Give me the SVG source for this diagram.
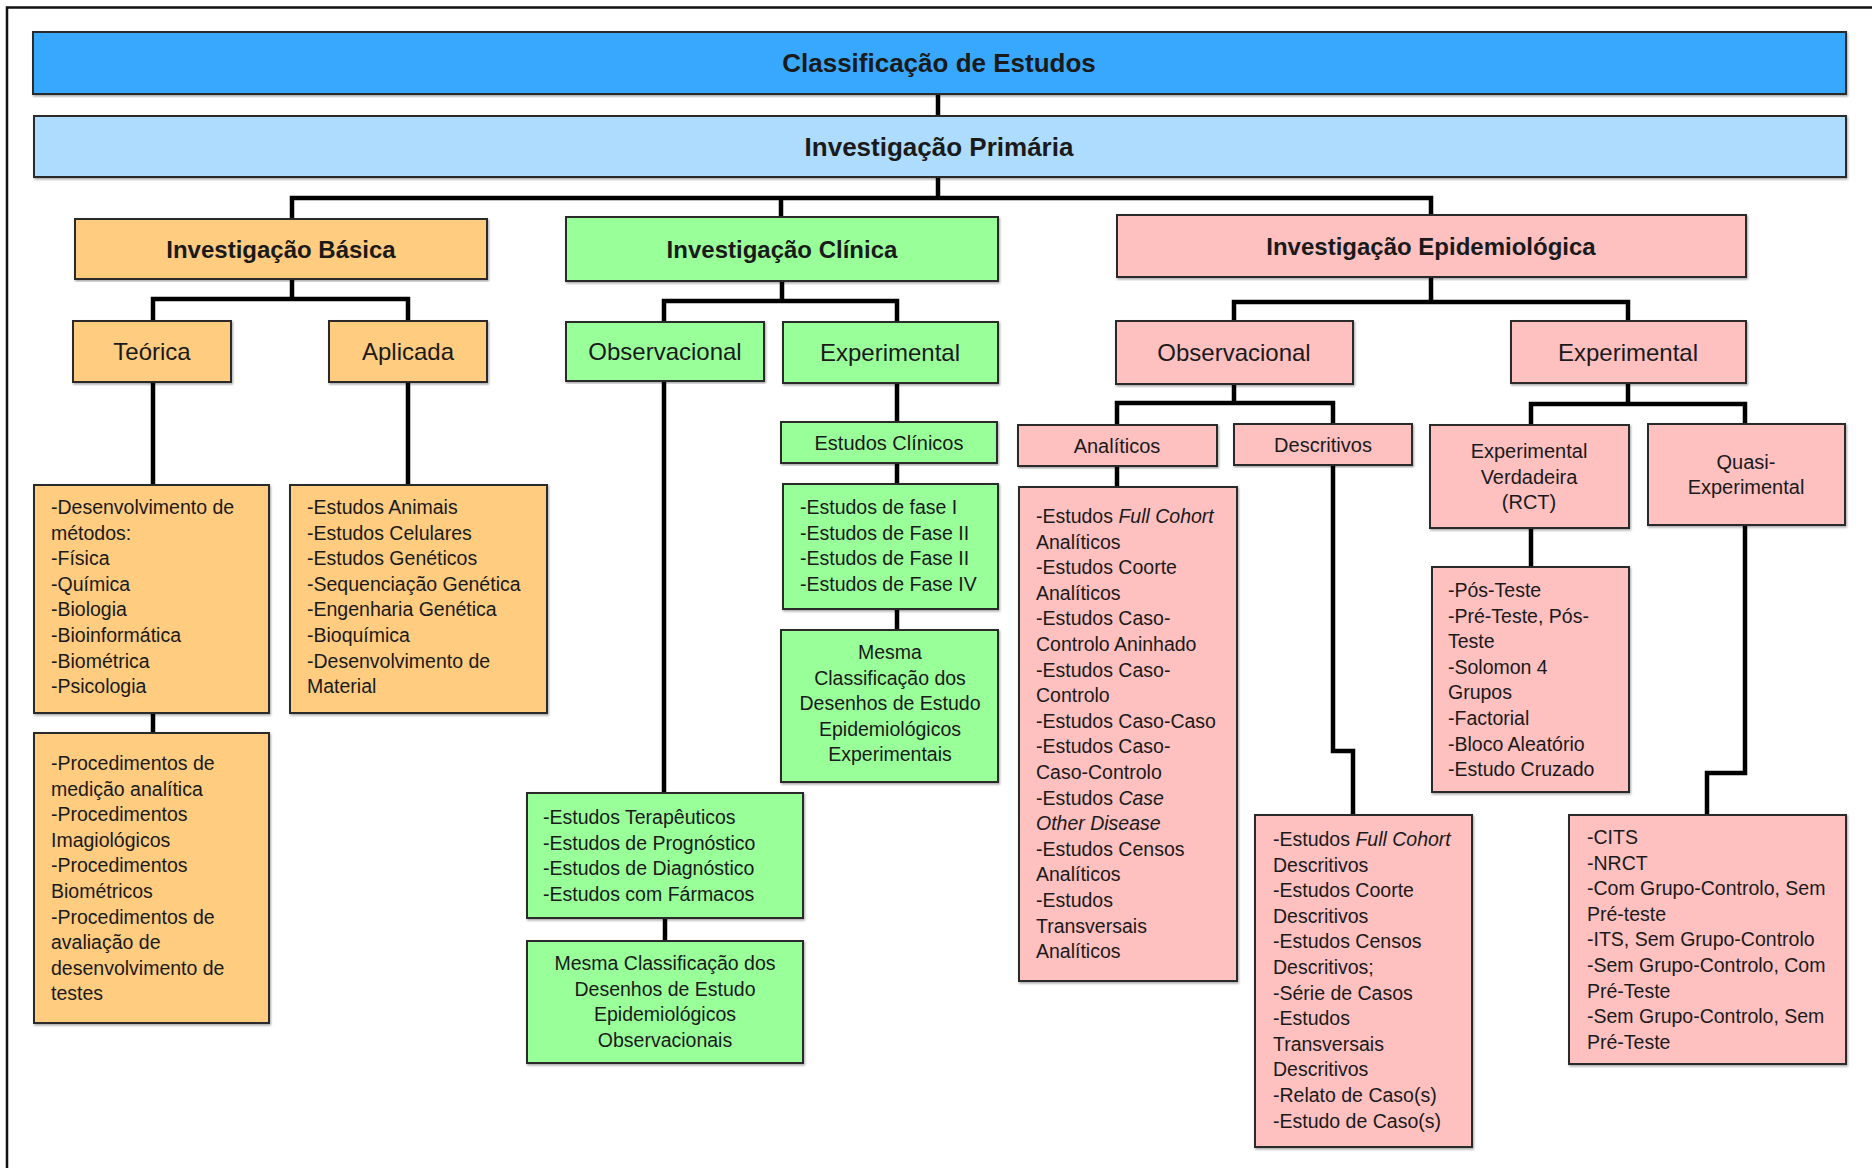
<svg xmlns="http://www.w3.org/2000/svg" width="1872" height="1168" viewBox="0 0 1872 1168">
  <defs>
    <filter id="shadow" x="-5%" y="-5%" width="110%" height="110%">
      <feDropShadow dx="1" dy="1.5" stdDeviation="1" flood-color="#000" flood-opacity="0.35"/>
    </filter>
  </defs>
  <style>
    rect.box { stroke: #2a2a2a; stroke-width: 2; filter: url(#shadow); }
    .blue { fill: #38a8ff; }
    .lblue { fill: #aedcff; }
    .orange { fill: #ffcc80; }
    .green { fill: #99ff99; }
    .pink { fill: #ffc0c0; }
    text { font-family: "Liberation Sans", Arial, sans-serif; fill: #1a1a1a; dominant-baseline: central; }
    .h1 { font-size: 26px; font-weight: bold; text-anchor: middle; }
    .h2 { font-size: 24px; font-weight: bold; text-anchor: middle; }
    .h3 { font-size: 24px; text-anchor: middle; }
    .h4 { font-size: 20px; text-anchor: middle; }
    .list { font-size: 19.5px; }
    .mid { text-anchor: middle; }
    .it { font-style: italic; }
    .wire { fill: none; stroke: #000; stroke-width: 4.5; stroke-linejoin: miter; }
    .frame { fill: none; stroke: #111; stroke-width: 2.5; }
  </style>

  <rect width="1872" height="1168" fill="#fff"/>
  <path class="frame" d="M7,1168 V7.5 H1872"/>

  <!-- connectors -->
  <g id="connectors">
    <path class="wire" d="M938,94 V116"/>
    <path class="wire" d="M938,177 V198"/>
    <path class="wire" d="M292,219 V198 H1431 V215 M781,198 V217"/>
    <path class="wire" d="M292,279 V299 M153,321 V299 H408 V321"/>
    <path class="wire" d="M782,281 V301 M664,322 V301 H897 V322"/>
    <path class="wire" d="M1431,277 V302 M1234,321 V302 H1628 V321"/>
    <path class="wire" d="M1234,384 V403 M1117,425 V403 H1333 V424"/>
    <path class="wire" d="M1628,383 V404 M1531,425 V404 H1745 V424"/>
    <path class="wire" d="M153,382 V485 M153,713 V733"/>
    <path class="wire" d="M408,382 V485"/>
    <path class="wire" d="M664,381 V793 M665,918 V941"/>
    <path class="wire" d="M897,383 V422 M897,463 V484 M897,609 V630"/>
    <path class="wire" d="M1117,466 V487"/>
    <path class="wire" d="M1333,465 V751 H1353 V815"/>
    <path class="wire" d="M1531,528 V567"/>
    <path class="wire" d="M1745,525 V773 H1707 V815"/>
  </g>

  <!-- level 0 / 1 -->
  <g id="classificacao">
    <rect class="box blue" x="33" y="32" width="1813" height="62"/>
    <text class="h1" x="939" y="63">Classificação de Estudos</text>
  </g>
  <g id="primaria">
    <rect class="box lblue" x="34" y="116" width="1812" height="61"/>
    <text class="h1" x="939" y="147">Investigação Primária</text>
  </g>

  <!-- main branches -->
  <g id="basica">
    <rect class="box orange" x="75" y="219" width="412" height="60"/>
    <text class="h2" x="281" y="249">Investigação Básica</text>
  </g>
  <g id="clinica">
    <rect class="box green" x="566" y="217" width="432" height="64"/>
    <text class="h2" x="782" y="249">Investigação Clínica</text>
  </g>
  <g id="epidemiologica">
    <rect class="box pink" x="1117" y="215" width="629" height="62"/>
    <text class="h2" x="1431" y="246">Investigação Epidemiológica</text>
  </g>

  <!-- second level -->
  <g id="teorica">
    <rect class="box orange" x="73" y="321" width="158" height="61"/>
    <text class="h3" x="152" y="351">Teórica</text>
  </g>
  <g id="aplicada">
    <rect class="box orange" x="329" y="321" width="158" height="61"/>
    <text class="h3" x="408" y="351">Aplicada</text>
  </g>
  <g id="clin-observacional">
    <rect class="box green" x="566" y="322" width="198" height="59"/>
    <text class="h3" x="665" y="351">Observacional</text>
  </g>
  <g id="clin-experimental">
    <rect class="box green" x="783" y="322" width="215" height="61"/>
    <text class="h3" x="890" y="352">Experimental</text>
  </g>
  <g id="epi-observacional">
    <rect class="box pink" x="1116" y="321" width="237" height="63"/>
    <text class="h3" x="1234" y="352">Observacional</text>
  </g>
  <g id="epi-experimental">
    <rect class="box pink" x="1511" y="321" width="235" height="62"/>
    <text class="h3" x="1628" y="352">Experimental</text>
  </g>

  <!-- third level -->
  <g id="estudos-clinicos">
    <rect class="box green" x="781" y="422" width="216" height="41"/>
    <text class="h4" x="889" y="443">Estudos Clínicos</text>
  </g>
  <g id="analiticos">
    <rect class="box pink" x="1018" y="425" width="199" height="41"/>
    <text class="h4" x="1117" y="446">Analíticos</text>
  </g>
  <g id="descritivos">
    <rect class="box pink" x="1234" y="424" width="178" height="41"/>
    <text class="h4" x="1323" y="445">Descritivos</text>
  </g>
  <g id="experimental-verdadeira">
    <rect class="box pink" x="1430" y="425" width="199" height="103"/>
    <text class="h4" x="1529" y="451">Experimental<tspan x="1529" dy="25.5">Verdadeira</tspan><tspan x="1529" dy="25.5">(RCT)</tspan></text>
  </g>
  <g id="quasi-experimental">
    <rect class="box pink" x="1648" y="424" width="197" height="101"/>
    <text class="h4" x="1746" y="462">Quasi-<tspan x="1746" dy="25">Experimental</tspan></text>
  </g>

  <!-- leaf lists -->
  <g id="teorica-lista">
    <rect class="box orange" x="34" y="485" width="235" height="228"/>
    <text class="list" x="51" y="507">-Desenvolvimento de<tspan x="51" dy="25.6">métodos:</tspan><tspan x="51" dy="25.6">-Física</tspan><tspan x="51" dy="25.6">-Química</tspan><tspan x="51" dy="25.6">-Biologia</tspan><tspan x="51" dy="25.6">-Bioinformática</tspan><tspan x="51" dy="25.6">-Biométrica</tspan><tspan x="51" dy="25.6">-Psicologia</tspan></text>
  </g>
  <g id="procedimentos">
    <rect class="box orange" x="34" y="733" width="235" height="290"/>
    <text class="list" x="51" y="763">-Procedimentos de<tspan x="51" dy="25.6">medição analítica</tspan><tspan x="51" dy="25.6">-Procedimentos</tspan><tspan x="51" dy="25.6">Imagiológicos</tspan><tspan x="51" dy="25.6">-Procedimentos</tspan><tspan x="51" dy="25.6">Biométricos</tspan><tspan x="51" dy="25.6">-Procedimentos de</tspan><tspan x="51" dy="25.6">avaliação de</tspan><tspan x="51" dy="25.6">desenvolvimento de</tspan><tspan x="51" dy="25.6">testes</tspan></text>
  </g>
  <g id="aplicada-lista">
    <rect class="box orange" x="290" y="485" width="257" height="228"/>
    <text class="list" x="307" y="507">-Estudos Animais<tspan x="307" dy="25.6">-Estudos Celulares</tspan><tspan x="307" dy="25.6">-Estudos Genéticos</tspan><tspan x="307" dy="25.6">-Sequenciação Genética</tspan><tspan x="307" dy="25.6">-Engenharia Genética</tspan><tspan x="307" dy="25.6">-Bioquímica</tspan><tspan x="307" dy="25.6">-Desenvolvimento de</tspan><tspan x="307" dy="25.6">Material</tspan></text>
  </g>
  <g id="fases">
    <rect class="box green" x="783" y="484" width="215" height="125"/>
    <text class="list" x="800" y="507">-Estudos de fase I<tspan x="800" dy="25.6">-Estudos de Fase II</tspan><tspan x="800" dy="25.6">-Estudos de Fase II</tspan><tspan x="800" dy="25.6">-Estudos de Fase IV</tspan></text>
  </g>
  <g id="mesma-experimentais">
    <rect class="box green" x="781" y="630" width="217" height="152"/>
    <text class="list mid" x="890" y="652">Mesma<tspan x="890" dy="25.6">Classificação dos</tspan><tspan x="890" dy="25.6">Desenhos de Estudo</tspan><tspan x="890" dy="25.6">Epidemiológicos</tspan><tspan x="890" dy="25.6">Experimentais</tspan></text>
  </g>
  <g id="clin-obs-lista">
    <rect class="box green" x="527" y="793" width="276" height="125"/>
    <text class="list" x="543" y="817">-Estudos Terapêuticos<tspan x="543" dy="25.6">-Estudos de Prognóstico</tspan><tspan x="543" dy="25.6">-Estudos de Diagnóstico</tspan><tspan x="543" dy="25.6">-Estudos com Fármacos</tspan></text>
  </g>
  <g id="mesma-observacionais">
    <rect class="box green" x="527" y="941" width="276" height="122"/>
    <text class="list mid" x="665" y="963">Mesma Classificação dos<tspan x="665" dy="25.6">Desenhos de Estudo</tspan><tspan x="665" dy="25.6">Epidemiológicos</tspan><tspan x="665" dy="25.6">Observacionais</tspan></text>
  </g>
  <g id="analiticos-lista">
    <rect class="box pink" x="1019" y="487" width="218" height="494"/>
    <text class="list" x="1036" y="516">-Estudos <tspan class="it">Full Cohort</tspan><tspan x="1036" dy="25.6">Analíticos</tspan><tspan x="1036" dy="25.6">-Estudos Coorte</tspan><tspan x="1036" dy="25.6">Analíticos</tspan><tspan x="1036" dy="25.6">-Estudos Caso-</tspan><tspan x="1036" dy="25.6">Controlo Aninhado</tspan><tspan x="1036" dy="25.6">-Estudos Caso-</tspan><tspan x="1036" dy="25.6">Controlo</tspan><tspan x="1036" dy="25.6">-Estudos Caso-Caso</tspan><tspan x="1036" dy="25.6">-Estudos Caso-</tspan><tspan x="1036" dy="25.6">Caso-Controlo</tspan><tspan x="1036" dy="25.6">-Estudos <tspan class="it">Case</tspan></tspan><tspan x="1036" dy="25.6" class="it">Other Disease</tspan><tspan x="1036" dy="25.6">-Estudos Censos</tspan><tspan x="1036" dy="25.6">Analíticos</tspan><tspan x="1036" dy="25.6">-Estudos</tspan><tspan x="1036" dy="25.6">Transversais</tspan><tspan x="1036" dy="25.6">Analíticos</tspan></text>
  </g>
  <g id="descritivos-lista">
    <rect class="box pink" x="1255" y="815" width="217" height="332"/>
    <text class="list" x="1273" y="839">-Estudos <tspan class="it">Full Cohort</tspan><tspan x="1273" dy="25.6">Descritivos</tspan><tspan x="1273" dy="25.6">-Estudos Coorte</tspan><tspan x="1273" dy="25.6">Descritivos</tspan><tspan x="1273" dy="25.6">-Estudos Censos</tspan><tspan x="1273" dy="25.6">Descritivos;</tspan><tspan x="1273" dy="25.6">-Série de Casos</tspan><tspan x="1273" dy="25.6">-Estudos</tspan><tspan x="1273" dy="25.6">Transversais</tspan><tspan x="1273" dy="25.6">Descritivos</tspan><tspan x="1273" dy="25.6">-Relato de Caso(s)</tspan><tspan x="1273" dy="25.6">-Estudo de Caso(s)</tspan></text>
  </g>
  <g id="rct-lista">
    <rect class="box pink" x="1432" y="567" width="197" height="225"/>
    <text class="list" x="1448" y="590">-Pós-Teste<tspan x="1448" dy="25.6">-Pré-Teste, Pós-</tspan><tspan x="1448" dy="25.6">Teste</tspan><tspan x="1448" dy="25.6">-Solomon 4</tspan><tspan x="1448" dy="25.6">Grupos</tspan><tspan x="1448" dy="25.6">-Factorial</tspan><tspan x="1448" dy="25.6">-Bloco Aleatório</tspan><tspan x="1448" dy="25.6">-Estudo Cruzado</tspan></text>
  </g>
  <g id="quasi-lista">
    <rect class="box pink" x="1569" y="815" width="277" height="249"/>
    <text class="list" x="1587" y="837">-CITS<tspan x="1587" dy="25.6">-NRCT</tspan><tspan x="1587" dy="25.6">-Com Grupo-Controlo, Sem</tspan><tspan x="1587" dy="25.6">Pré-teste</tspan><tspan x="1587" dy="25.6">-ITS, Sem Grupo-Controlo</tspan><tspan x="1587" dy="25.6">-Sem Grupo-Controlo, Com</tspan><tspan x="1587" dy="25.6">Pré-Teste</tspan><tspan x="1587" dy="25.6">-Sem Grupo-Controlo, Sem</tspan><tspan x="1587" dy="25.6">Pré-Teste</tspan></text>
  </g>
</svg>
